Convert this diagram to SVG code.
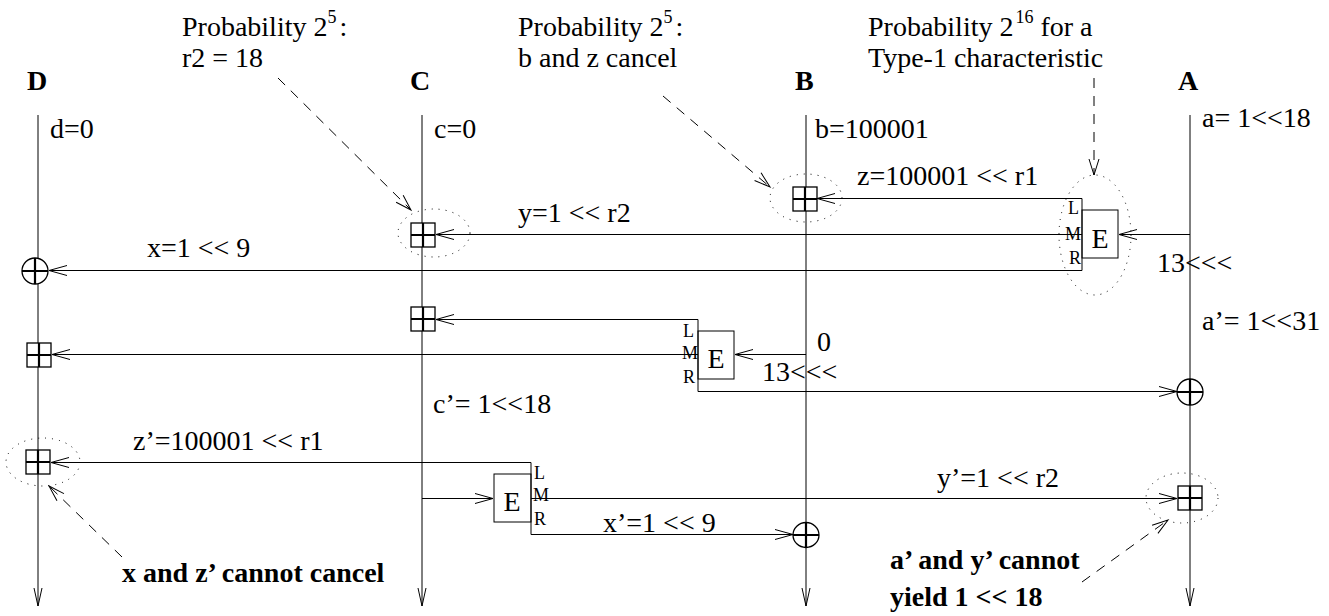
<svg xmlns="http://www.w3.org/2000/svg" width="1329" height="616" viewBox="0 0 1329 616">
<style>
.t{font-family:"Liberation Serif","Times New Roman",serif;font-size:28px;fill:#000}
.b{font-weight:bold}
.s{font-size:18px}
.life{stroke:#000;stroke-width:1;fill:none}
.conn{stroke:#000;stroke-width:1;fill:none}
.dash{stroke:#000;stroke-width:1;fill:none;stroke-dasharray:10 8}
.dot{stroke:#000;stroke-width:1;fill:none;stroke-dasharray:1 6}
.box{stroke:#000;stroke-width:1.3;fill:#fff}
.cross{stroke:#000;stroke-width:2.2}
</style>
<defs>
<marker id="ah" viewBox="-20 -7 22 14" refX="0" refY="0" markerWidth="22" markerHeight="14" markerUnits="userSpaceOnUse" orient="auto">
<path d="M-18,-5 L0,0 L-18,5" fill="none" stroke="#000" stroke-width="1"/>
</marker>
<marker id="ahv" viewBox="-20 -7 22 14" refX="0" refY="0" markerWidth="22" markerHeight="14" markerUnits="userSpaceOnUse" orient="auto">
<path d="M-18,-4 L0,0 L-18,4" fill="none" stroke="#000" stroke-width="1"/>
</marker>
<marker id="ahd" viewBox="-20 -7 22 14" refX="0" refY="0" markerWidth="22" markerHeight="14" markerUnits="userSpaceOnUse" orient="auto">
<path d="M-16,-5 L0,0 L-16,5" fill="none" stroke="#000" stroke-width="1" stroke-dasharray="none"/>
</marker>
</defs>

<!-- lifelines -->
<g id="lifeline-D">
<text class="t b" x="27" y="90">D</text>
<line class="life" x1="38" y1="115" x2="38" y2="606" marker-end="url(#ahv)"/>
<text class="t" x="50" y="138">d=0</text>
</g>
<g id="lifeline-C">
<text class="t b" x="410" y="90">C</text>
<line class="life" x1="422" y1="115" x2="422" y2="606" marker-end="url(#ahv)"/>
<text class="t" x="434" y="138">c=0</text>
<text class="t" x="433" y="413">c’= 1&lt;&lt;18</text>
</g>
<g id="lifeline-B">
<text class="t b" x="795" y="90">B</text>
<line class="life" x1="806" y1="115" x2="806" y2="606" marker-end="url(#ahv)"/>
<text class="t" x="815" y="138">b=100001</text>
<text class="t" x="817" y="351">0</text>
<text class="t" x="762" y="381">13&lt;&lt;&lt;</text>
</g>
<g id="lifeline-A">
<text class="t b" x="1178" y="90">A</text>
<line class="life" x1="1190" y1="115" x2="1190" y2="606" marker-end="url(#ahv)"/>
<text class="t" x="1202" y="127">a= 1&lt;&lt;18</text>
<text class="t" x="1157" y="272">13&lt;&lt;&lt;</text>
<text class="t" x="1202" y="330">a’= 1&lt;&lt;31</text>
</g>

<!-- E boxes -->
<g id="E1">
<line class="conn" x1="1082" y1="198.5" x2="1082" y2="270.5"/>
<rect class="conn" x="1082" y="210" width="36" height="48"/>
<text class="t" x="1100" y="248" text-anchor="middle">E</text>
<text class="t s" x="1068" y="214">L</text>
<text class="t s" x="1065" y="240">M</text>
<text class="t s" x="1069" y="264">R</text>
</g>
<g id="E2">
<line class="conn" x1="698" y1="319.5" x2="698" y2="391.5"/>
<rect class="conn" x="698" y="331" width="36" height="48"/>
<text class="t" x="716" y="368" text-anchor="middle">E</text>
<text class="t s" x="683" y="337">L</text>
<text class="t s" x="682" y="359">M</text>
<text class="t s" x="683" y="383">R</text>
</g>
<g id="E3">
<line class="conn" x1="531" y1="462.5" x2="531" y2="534.5"/>
<rect class="conn" x="494" y="474" width="37" height="48"/>
<text class="t" x="512" y="511" text-anchor="middle">E</text>
<text class="t s" x="534" y="479">L</text>
<text class="t s" x="533" y="501">M</text>
<text class="t s" x="534" y="525">R</text>
</g>

<!-- connectors -->
<g id="connectors">
<path class="conn" d="M1190,234.5 H1119" marker-end="url(#ah)"/>
<path class="conn" d="M1082,198.5 H817" marker-end="url(#ah)"/>
<path class="conn" d="M1082,234.5 H436" marker-end="url(#ah)"/>
<path class="conn" d="M1082,270.5 H49" marker-end="url(#ah)"/>
<path class="conn" d="M806,354.5 H735" marker-end="url(#ah)"/>
<path class="conn" d="M698,319.5 H436" marker-end="url(#ah)"/>
<path class="conn" d="M698,354.5 H52" marker-end="url(#ah)"/>
<path class="conn" d="M698,391.5 H1177" marker-end="url(#ah)"/>
<path class="conn" d="M422,498.5 H493" marker-end="url(#ah)"/>
<path class="conn" d="M531,462.5 H51" marker-end="url(#ah)"/>
<path class="conn" d="M531,498.5 H1177" marker-end="url(#ah)"/>
<path class="conn" d="M531,534.5 H793" marker-end="url(#ah)"/>
<text class="t" x="857" y="185">z=100001 &lt;&lt; r1</text>
<text class="t" x="518" y="222">y=1 &lt;&lt; r2</text>
<text class="t" x="147" y="257">x=1 &lt;&lt; 9</text>
<text class="t" x="133" y="450">z’=100001 &lt;&lt; r1</text>
<text class="t" x="937" y="487">y’=1 &lt;&lt; r2</text>
<text class="t" x="603" y="532">x’=1 &lt;&lt; 9</text>
</g>

<!-- combiner symbols -->
<g id="plus-B1"><rect class="box" x="793" y="187" width="24" height="24"/><path class="cross" d="M793,199 H817 M805,187 V211"/></g>
<g id="plus-C1"><rect class="box" x="411" y="223" width="24" height="24"/><path class="cross" d="M411,235 H435 M423,223 V247"/></g>
<g id="plus-C2"><rect class="box" x="411" y="307" width="24" height="24"/><path class="cross" d="M411,319 H435 M423,307 V331"/></g>
<g id="plus-D1"><rect class="box" x="27" y="343" width="24" height="24"/><path class="cross" d="M27,355 H51 M39,343 V367"/></g>
<g id="plus-D2"><rect class="box" x="26" y="450" width="24" height="24"/><path class="cross" d="M26,462 H50 M38,450 V474"/></g>
<g id="plus-A2"><rect class="box" x="1178" y="486" width="24" height="24"/><path class="cross" d="M1178,498 H1202 M1190,486 V510"/></g>
<g id="xor-D"><circle class="box" cx="35" cy="271" r="13"/><path class="cross" d="M22,271 H48 M35,258 V284"/></g>
<g id="xor-A"><circle class="box" cx="1190" cy="392" r="13"/><path class="cross" d="M1177,392 H1203 M1190,379 V405"/></g>
<g id="xor-B"><ellipse class="box" cx="806" cy="535" rx="13" ry="12.5"/><path class="cross" d="M793,535 H819 M806,522.5 V547.5"/></g>

<!-- dotted highlights -->
<g id="highlights">
<ellipse class="dot" cx="434" cy="233" rx="36" ry="24"/>
<ellipse class="dot" cx="806" cy="198" rx="36" ry="24"/>
<ellipse class="dot" cx="1095" cy="235" rx="36" ry="60"/>
<ellipse class="dot" cx="43" cy="462" rx="37" ry="24"/>
<ellipse class="dot" cx="1182" cy="498" rx="36" ry="25"/>
</g>

<!-- annotations -->
<g id="note-r2">
<text class="t" x="182" y="36">Probability 2<tspan class="s" dy="-13">5</tspan><tspan dy="13" dx="3">:</tspan></text>
<text class="t" x="182" y="67">r2 = 18</text>
<path class="dash" d="M278,78 L411,210" marker-end="url(#ahd)"/>
</g>
<g id="note-bz">
<text class="t" x="518" y="36">Probability 2<tspan class="s" dy="-13">5</tspan><tspan dy="13" dx="3">:</tspan></text>
<text class="t" x="518" y="67">b and z cancel</text>
<path class="dash" d="M663,96 L770,187" marker-end="url(#ahd)"/>
</g>
<g id="note-type1">
<text class="t" x="868" y="36">Probability 2<tspan class="s" dy="-13" dx="2">16</tspan><tspan dy="13"> for a</tspan></text>
<text class="t" x="868" y="67">Type-1 characteristic</text>
<path class="dash" d="M1094,78 L1094,175" marker-end="url(#ahd)"/>
</g>
<g id="note-xz">
<text class="t b" x="122" y="582">x and z’ cannot cancel</text>
<path class="dash" d="M122,557 L49,486" marker-end="url(#ahd)"/>
</g>
<g id="note-ay">
<text class="t b" x="890" y="569">a’ and y’ cannot</text>
<text class="t b" x="890" y="606">yield 1 &lt;&lt; 18</text>
<path class="dash" d="M1082,582 L1168,520" marker-end="url(#ahd)"/>
</g>
</svg>
